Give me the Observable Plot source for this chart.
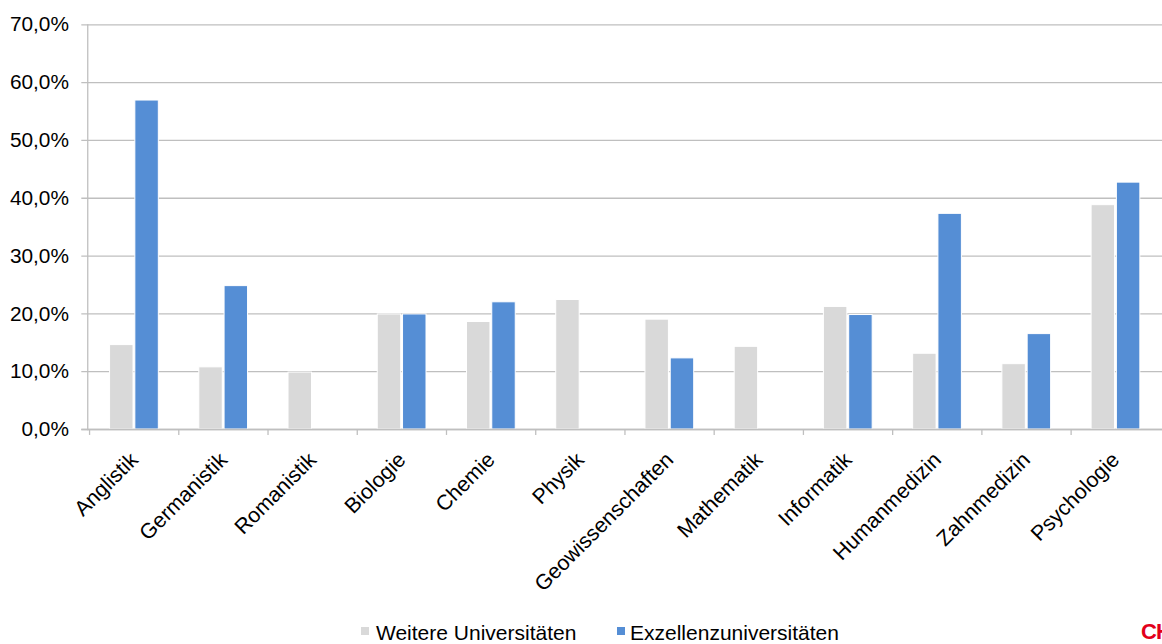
<!DOCTYPE html>
<html>
<head>
<meta charset="utf-8">
<script src="https://cdn.jsdelivr.net/npm/d3@7"></script>
<script src="https://cdn.jsdelivr.net/npm/@observablehq/plot@0.6"></script>
<style>
  html, body { margin: 0; padding: 0; background: #fff; }
  body { width: 1162px; height: 644px; overflow: hidden; position: relative; font-family: "Liberation Sans", Arial, sans-serif; }
  #chart { position: absolute; left: 0; top: 0; }
  .leg { position: absolute; font-size: 21px; color: #000; white-space: nowrap; line-height: 1; }
  .sw { position: absolute; width: 8px; height: 8px; }
  #logo { position: absolute; left: 1141px; top: 619px; font-size: 22px; font-weight: bold; color: #e2001a; letter-spacing: -1px; }
</style>
</head>
<body>
<div id="chart"></div>
<div class="sw" style="left:361px;top:627px;background:#d9d9d9"></div>
<div class="leg" style="left:376px;top:622px">Weitere Universitäten</div>
<div class="sw" style="left:617px;top:627px;background:#558ed5"></div>
<div class="leg" style="left:630px;top:622px">Exzellenzuniversitäten</div>
<div id="logo">CHE</div>
<script>
const categories = ["Anglistik", "Germanistik", "Romanistik", "Biologie", "Chemie", "Physik", "Geowissenschaften", "Mathematik", "Informatik", "Humanmedizin", "Zahnmedizin", "Psychologie"];
const weitere = [14.6, 10.75, 9.85, 19.9, 18.6, 22.4, 19.0, 14.3, 21.2, 13.1, 11.3, 38.8];
const exzellenz = [56.9, 24.8, null, 19.9, 22.0, null, 12.3, null, 19.8, 37.3, 16.5, 42.7];
const yTicks = [0, 10, 20, 30, 40, 50, 60, 70];

const rows = categories.map((c, i) => ({category: c, weitere: weitere[i], exz: exzellenz[i]}));

const W = 1172, H = 600, mL = 88, mR = 0, mT = 24.5, mB = H - 432.7;
const step = (W - mL - mR) / categories.length;
const grid = "#bfbfbf";

const chart = Plot.plot({
  width: W,
  height: H,
  marginLeft: mL,
  marginRight: mR,
  marginTop: mT,
  marginBottom: mB,
  style: {fontFamily: '"Liberation Sans", Arial, sans-serif', fontSize: "21px", color: "#000", background: "white"},
  x: {domain: categories, padding: 0, label: null},
  y: {domain: [0, 70], label: null},
  marks: [
    Plot.ruleY(yTicks, {y: d => d, stroke: grid, strokeWidth: 1.3, insetLeft: -6}),
    Plot.barY(rows.filter(d => d.weitere != null), {x: "category", y: "weitere", fill: "#d9d9d9", stroke: "white", strokeWidth: 1, insetLeft: 20.5, insetRight: step - 44.5}),
    Plot.barY(rows.filter(d => d.exz != null), {x: "category", y: "exz", fill: "#558ed5", stroke: "white", strokeWidth: 1, insetLeft: 46, insetRight: step - 70}),
    Plot.ruleY([0], {stroke: grid, strokeWidth: 1.5, insetLeft: -6}),
    Plot.frame({anchor: "left", stroke: grid, strokeWidth: 1.3}),
    Plot.ruleX(categories, {x: d => d, dx: -step / 2, y1: 0, y2: 0, insetBottom: -6, stroke: grid, strokeWidth: 1.3}),
    Plot.axisY(yTicks, {tickSize: 0, tickPadding: 19, tickFormat: d => d.toFixed(1).replace(".", ",") + "%", fontSize: 21, fill: "#000"}),
    Plot.axisX({tickSize: 0, tickRotate: -45, tickPadding: 27, fontSize: 21.5, fill: "#000"})
  ]
});
document.getElementById("chart").appendChild(chart);
</script>
</body>
</html>
